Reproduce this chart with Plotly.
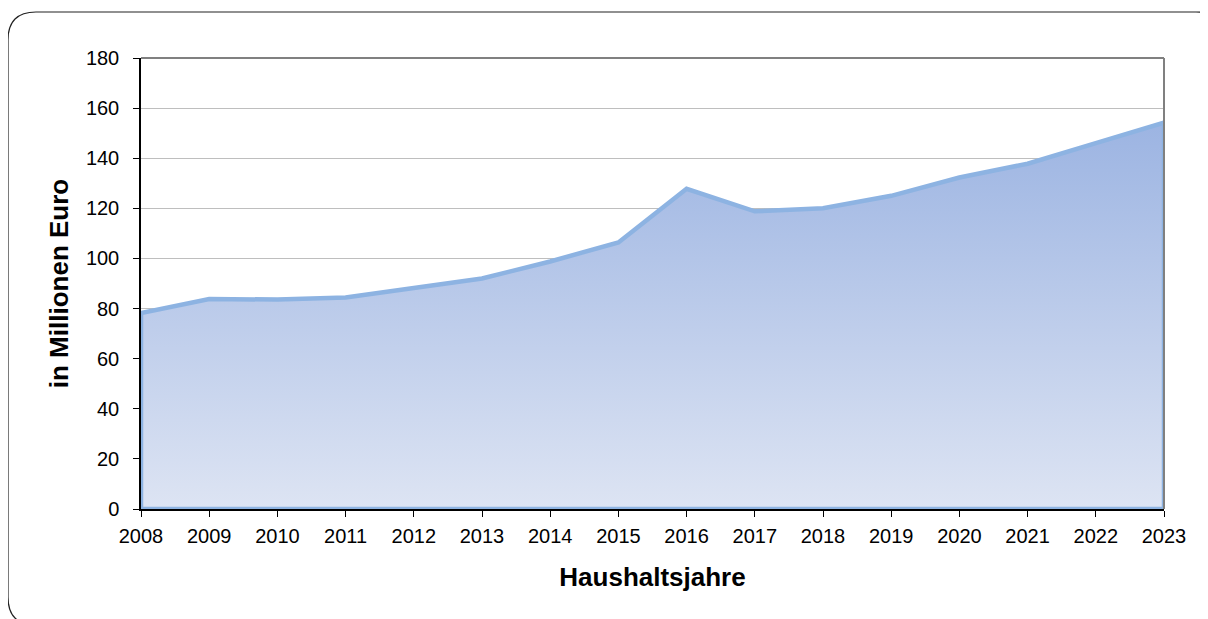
import plotly.graph_objects as go

years = list(range(2008, 2024))
values = [78.2, 83.8, 83.6, 84.4, 88.4, 92.0, 98.8, 106.4, 127.8, 118.8, 120.0, 125.0, 132.3, 137.8, 146.0, 154.2]
y_ticks = list(range(0, 181, 20))

# page offset of the plot div (body margin)
OX, OY = 8, 8
W, H = 1200, 611
# desired plot area in page pixels
PL, PR, PT, PB = 141, 1164, 58, 509
L, T = PL - OX, PT - OY
R = W - (PR - OX)
B = H - (PB - OY)
pw, ph = PR - PL, PB - PT

def px(x):
    return (x - PL) / pw

def py(y):
    return (PB - y) / ph

# closed polygon along data with baseline
xs = [years[0]] + years + [years[-1], years[0]]
ys = [0] + values + [0, 0]

fig = go.Figure()
fig.add_trace(go.Scatter(
    x=xs, y=ys, mode="lines", fill="toself",
    line=dict(color="#8DB3E2", width=4.5),
    fillgradient=dict(type="vertical", start=0, stop=max(values),
                      colorscale=[[0, "#DDE4F3"], [1, "#9CB4E2"]]),
    hoverinfo="skip", showlegend=False,
))

# rounded outer border (page pixel coords)
x0, y0, x1, y1, r = 8, 12, 1224, 625, 28
path = (f"M {px(x0)} {py(y0 + r)} Q {px(x0)} {py(y0)} {px(x0 + r)} {py(y0)} "
        f"L {px(x1 - r)} {py(y0)} Q {px(x1)} {py(y0)} {px(x1)} {py(y0 + r)} "
        f"L {px(x1)} {py(y1 - r)} Q {px(x1)} {py(y1)} {px(x1 - r)} {py(y1)} "
        f"L {px(x0 + r)} {py(y1)} Q {px(x0)} {py(y1)} {px(x0)} {py(y1 - r)} Z")
shapes = [
    dict(type="path", xref="paper", yref="paper", path=path,
         line=dict(color="#222222", width=1.2), layer="below"),
    dict(type="line", xref="paper", yref="paper", x0=0, x1=1, y0=1, y1=1,
         line=dict(color="#808080", width=2)),
    dict(type="line", xref="paper", yref="paper", x0=1, x1=1, y0=0, y1=1,
         line=dict(color="#808080", width=2)),
]

fig.update_layout(
    width=W, height=H,
    margin=dict(l=L, r=R, t=T, b=B),
    paper_bgcolor="rgba(0,0,0,0)", plot_bgcolor="white",
    font=dict(family="Liberation Sans, Arial, sans-serif", size=20, color="black"),
    shapes=shapes,
    xaxis=dict(
        range=[years[0], years[-1]], tickmode="array", tickvals=years,
        ticktext=[str(y) for y in years],
        showgrid=False, zeroline=False, showline=True, linecolor="black", linewidth=1.5,
        ticks="outside", ticklen=6, tickcolor="black", ticklabelstandoff=2,
        title=dict(text="<b>Haushaltsjahre</b>", font=dict(size=26), standoff=22),
    ),
    yaxis=dict(
        range=[0, 180], tickmode="array", tickvals=y_ticks,
        showgrid=True, gridcolor="#BEBEBE", gridwidth=1,
        zeroline=False, showline=True, linecolor="black", linewidth=1.5,
        ticks="outside", ticklen=6, tickcolor="black", ticklabelstandoff=10,
        title=dict(text="<b>in Millionen Euro</b>", font=dict(size=26), standoff=10),
    ),
)

fig.write_html("out.html")
